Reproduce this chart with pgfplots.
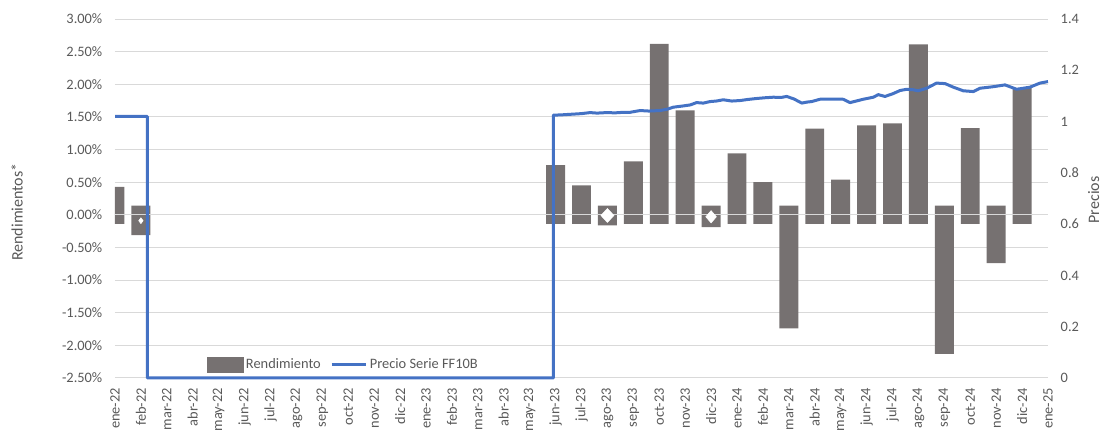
\documentclass[border=0pt]{standalone}
\usepackage{fontspec}
\setmainfont{Carlito}
\usepackage{pgfplots}
\pgfplotsset{compat=1.18}
\usepackage{pgfplotstable}
\definecolor{barc}{HTML}{767171}
\definecolor{linec}{HTML}{4472C4}
\definecolor{gridc}{HTML}{D9D9D9}
\definecolor{txtc}{HTML}{595959}

% base: opposite end of each floating bar; top: value end
\pgfplotstableread{
x base top
0 -0.14 0.43
1 0.14 -0.31
17 -0.14 0.76
18 -0.14 0.45
19 0.14 -0.16
20 -0.14 0.82
21 -0.14 2.62
22 -0.14 1.60
23 0.14 -0.19
24 -0.14 0.94
25 -0.14 0.50
26 0.14 -1.74
27 -0.14 1.32
28 -0.14 0.54
29 -0.14 1.37
30 -0.14 1.40
31 -0.14 2.61
32 0.14 -2.13
33 -0.14 1.33
34 0.14 -0.74
35 -0.14 1.94
}\bars

\pgfplotstableread{
x p
0 1.020
1.25 1.020
1.25 0
16.91 0
16.91 1.025
17.2 1.026
17.68 1.029
18.0 1.031
18.33 1.035
18.6 1.033
18.97 1.035
19.3 1.034
19.6 1.036
19.87 1.036
20.26 1.043
20.6 1.041
21.03 1.043
21.3 1.048
21.54 1.056
21.93 1.061
22.2 1.065
22.44 1.074
22.7 1.072
22.96 1.078
23.2 1.080
23.47 1.085
23.8 1.080
24.12 1.082
24.4 1.086
24.76 1.090
25.1 1.093
25.40 1.095
25.7 1.094
25.92 1.098
26.2 1.088
26.50 1.072
26.7 1.076
26.88 1.078
27.20 1.087
27.6 1.088
28.10 1.087
28.36 1.074
28.6 1.080
28.87 1.087
29.26 1.095
29.45 1.105
29.71 1.098
30.0 1.108
30.29 1.121
30.55 1.126
30.8 1.124
30.99 1.120
31.32 1.130
31.70 1.150
32.03 1.148
32.35 1.134
32.73 1.120
33.12 1.117
33.38 1.130
33.89 1.136
34.34 1.143
34.79 1.126
35.30 1.134
35.69 1.150
36.0 1.156
}\price

\pgfplotsset{
  basestyle/.style={
    scale only axis, width=699.75pt, height=269.25pt,
    xmin=0, xmax=36, at={(0,0)}, anchor=south west,
    axis line style={draw=none}, major tick length=0pt,
    tick label style={font=\fontsize{10.8}{13}\selectfont, text=txtc},
    /pgf/number format/assume math mode=true,
  }
}

\begin{document}
\begin{tikzpicture}
\begin{axis}[basestyle,
  ymin=-2.5, ymax=3, ytick={-2.5,-2,...,3},
  ymajorgrids, grid style={gridc, line width=0.75pt},
  yticklabel={\pgfmathprintnumber[fixed,fixed zerofill,precision=2]{\tick}\%},
  yticklabel style={xshift=-6pt},
  xtick={0,...,36},
  xticklabels={ene-22,feb-22,mar-22,abr-22,may-22,jun-22,jul-22,ago-22,sep-22,oct-22,nov-22,dic-22,ene-23,feb-23,mar-23,abr-23,may-23,jun-23,jul-23,ago-23,sep-23,oct-23,nov-23,dic-23,ene-24,feb-24,mar-24,abr-24,may-24,jun-24,jul-24,ago-24,sep-24,oct-24,nov-24,dic-24,ene-25},
  xticklabel style={yshift=-4pt, rotate=90, anchor=east},
  ylabel={Rendimientos*},
  ylabel style={at={(axis description cs:-0.105,0.462)}, anchor=center, font=\fontsize{12}{14}\selectfont, text=txtc},
  ybar, bar width=14.2pt, bar shift=0pt,
]
\addplot[fill=barc, draw=none] table[x=x, y=base] {\bars};
\addplot[fill=barc, draw=none] table[x=x, y=top] {\bars};
\end{axis}

\begin{axis}[basestyle, hide axis, ymin=-2.5, ymax=3]
\addplot[gridc, line width=0.75pt] coordinates {(0,0) (36,0)};
\addplot[only marks, mark=diamond*, mark size=5.2pt, mark options={fill=white, draw=white, xscale=1.25}] coordinates {(19,-0.01)};
\addplot[only marks, mark=diamond*, mark size=4.6pt, mark options={fill=white, draw=white, xscale=1.15}] coordinates {(23,-0.03)};
\addplot[only marks, mark=diamond*, mark size=2.2pt, mark options={fill=white, draw=white}] coordinates {(1,-0.09)};
\end{axis}

\begin{axis}[basestyle, clip=false,
  ymin=0, ymax=1.4, ytick={0,0.2,...,1.4},
  yticklabel pos=right, xtick=\empty,
  yticklabel style={xshift=6pt},
  ylabel={Precios},
  ylabel style={at={(axis description cs:1.049,0.496)}, anchor=center, font=\fontsize{12}{14}\selectfont, text=txtc},
  legend style={at={(0.245,0.0376)}, anchor=center, draw=none, fill=none,
    font=\fontsize{10.8}{13}\selectfont, text=txtc, inner sep=0pt,
    /tikz/every even column/.append style={column sep=5pt}},
  legend columns=2,
]
\addlegendimage{legend image code/.code={\fill[barc] (0pt,-5.6pt) rectangle (27pt,5.6pt);}}
\addlegendentry{Rendimiento}
\addplot[linec, line width=2.25pt, line join=round,
  legend image code/.code={\draw[linec, line width=2.25pt] (0pt,0pt) -- (25.5pt,0pt);}] table[x=x, y=p] {\price};
\addlegendentry{Precio Serie FF10B}
\end{axis}
\pgfresetboundingbox
\path[use as bounding box] (-86.25pt,-39.75pt) rectangle (741pt,283.5pt);
\end{tikzpicture}
\end{document}
